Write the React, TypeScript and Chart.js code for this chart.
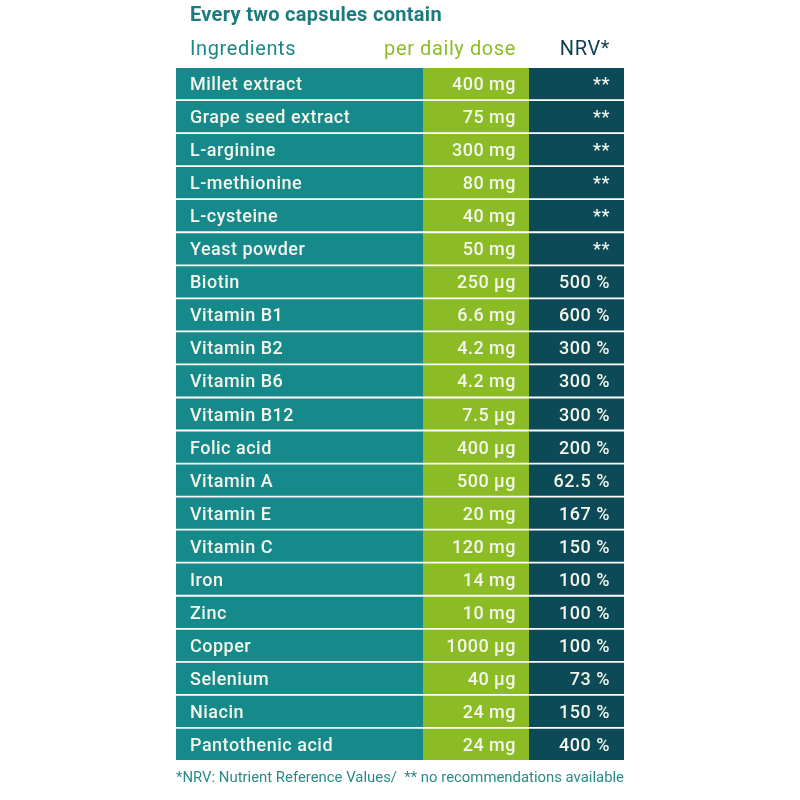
import React, { useEffect, useRef } from "react";
import { Chart, registerables } from "chart.js";

Chart.register(...registerables);

const ingredients = [
  "Millet extract", "Grape seed extract", "L-arginine", "L-methionine", "L-cysteine",
  "Yeast powder", "Biotin", "Vitamin B1", "Vitamin B2", "Vitamin B6", "Vitamin B12",
  "Folic acid", "Vitamin A", "Vitamin E", "Vitamin C", "Iron", "Zinc", "Copper",
  "Selenium", "Niacin", "Pantothenic acid",
];
const doses = [
  "400 mg", "75 mg", "300 mg", "80 mg", "40 mg", "50 mg", "250 µg", "6.6 mg", "4.2 mg",
  "4.2 mg", "7.5 µg", "400 µg", "500 µg", "20 mg", "120 mg", "14 mg", "10 mg", "1000 µg",
  "40 µg", "24 mg", "24 mg",
];
const nrv = [
  "**", "**", "**", "**", "**", "**", "500 %", "600 %", "300 %", "300 %", "300 %", "200 %",
  "62.5 %", "167 %", "150 %", "100 %", "100 %", "100 %", "73 %", "150 %", "400 %",
];
const title = "Every two capsules contain";
const headers = ["Ingredients", "per daily dose", "NRV*"];
const footnote = "*NRV: Nutrient Reference Values/  ** no recommendations available";

// column layout widths (pixels of the table)
const COLS = [247, 106, 95];
const TEAL = "#168a8b";
const GREEN = "#8cbc25";
const DARK = "#0d4a58";
const CELL_TEXT = "#f4f6ec";
const FONT = "Roboto, 'Open Sans', sans-serif";

export default function App() {
  const ref = useRef<HTMLCanvasElement>(null);
  useEffect(() => {
    const total = COLS[0] + COLS[1] + COLS[2];
    const textPlugin = {
      id: "tableText",
      afterDatasetsDraw(chart: any) {
        const ctx = chart.ctx;
        const xs = chart.scales.x;
        const ys = chart.scales.y;
        const ca = chart.chartArea;
        const doseRight = xs.getPixelForValue(COLS[0] + COLS[1]) - 13;
        const nrvRight = xs.getPixelForValue(total) - 14;
        const nameLeft = ca.left + 14;
        ctx.save();
        ctx.textBaseline = "middle";
        ctx.fillStyle = CELL_TEXT;
        ctx.font = `500 18px ${FONT}`;
        ctx.letterSpacing = "0.5px";
        ingredients.forEach((name, i) => {
          const y = ys.getPixelForValue(i) + 2;
          ctx.textAlign = "left";
          ctx.fillText(name, nameLeft, y);
          ctx.textAlign = "right";
          ctx.fillText(doses[i], doseRight, y);
          ctx.fillText(nrv[i], nrvRight, y);
        });
        // title and headers
        ctx.textAlign = "left";
        ctx.font = `bold 20px ${FONT}`;
        ctx.letterSpacing = "0.3px";
        ctx.fillStyle = "#1b7b7d";
        ctx.fillText(title, nameLeft, 16);
        ctx.font = `20px ${FONT}`;
        ctx.letterSpacing = "0.6px";
        ctx.fillStyle = "#1f8585";
        ctx.fillText(headers[0], nameLeft, 50);
        ctx.textAlign = "right";
        ctx.fillStyle = "#8dbd2a";
        ctx.fillText(headers[1], doseRight, 50);
        ctx.fillStyle = "#0d3f4e";
        ctx.fillText(headers[2], nrvRight, 50);
        // footnote
        ctx.textAlign = "left";
        ctx.letterSpacing = "0px";
        ctx.font = `14px ${FONT}`;
        ctx.fillStyle = "#2a8a88";
        const w = ctx.measureText(footnote).width;
        const target = ca.right - ca.left;
        ctx.save();
        ctx.translate(ca.left, 778);
        ctx.scale(target / w, 1);
        ctx.fillText(footnote, 0, 0);
        ctx.restore();
        ctx.restore();
      },
    };
    const chart = new Chart(ref.current!, {
      type: "bar",
      data: {
        labels: ingredients,
        datasets: [
          { data: ingredients.map(() => COLS[0]), backgroundColor: TEAL },
          { data: ingredients.map(() => COLS[1]), backgroundColor: GREEN },
          { data: ingredients.map(() => COLS[2]), backgroundColor: DARK },
        ],
      },
      options: {
        indexAxis: "y",
        responsive: false,
        animation: false,
        maintainAspectRatio: false,
        layout: { padding: { left: 176, right: 176, top: 67, bottom: 39 } },
        datasets: { bar: { barPercentage: 1, categoryPercentage: 0.945, borderWidth: 0 } },
        plugins: { legend: { display: false }, tooltip: { enabled: false }, title: { display: false } },
        scales: {
          x: { stacked: true, display: false, min: 0, max: total },
          y: { stacked: true, display: false },
        },
      },
      plugins: [textPlugin],
    });
    return () => chart.destroy();
  }, []);
  return (
    <div style={{ position: "fixed", left: 0, top: 0, width: 800, height: 800, background: "#fff" }}>
      <canvas ref={ref} width={800} height={800} />
    </div>
  );
}
